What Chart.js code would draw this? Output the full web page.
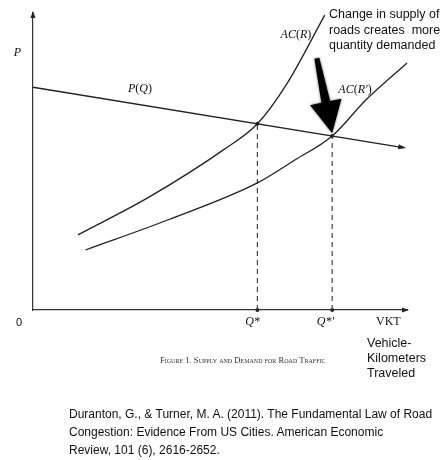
<!DOCTYPE html>
<html>
<head>
<meta charset="utf-8">
<script src="https://cdn.jsdelivr.net/npm/chart.js@4.4.1/dist/chart.umd.min.js"></script>
<style>
  body { margin: 0; background: #fff; }
  #wrap { position: relative; width: 443px; height: 460px; }
  #grafico { position: absolute; left: 0; top: 0; }
  .txt { position: absolute; font-family: "Liberation Sans", Arial, sans-serif; color: #111; white-space: nowrap; }
  #caption { left: 160px; top: 355px; font: 8.6px "Liberation Serif", serif; font-variant: small-caps; color: #333; }
</style>
</head>
<body>
<div id="wrap">
  <canvas id="grafico" width="443" height="460"></canvas>
  <div class="txt" id="note" style="left:329px; top:7px; font-size:12.5px; line-height:15.5px;">Change in supply of<br>roads creates&nbsp; more<br>quantity demanded</div>
  <div class="txt" id="caption">Figure 1. Supply and Demand for Road Traffic</div>
  <div class="txt" id="vkt" style="left:367px; top:336px; font-size:12.5px; line-height:15px;">Vehicle-<br>Kilometers<br>Traveled</div>
  <div class="txt" id="cite" style="left:69px; top:405px; font-size:12px; line-height:18px;">Duranton, G., &amp; Turner, M. A. (2011). The Fundamental Law of Road<br>Congestion: Evidence From US Cities. American Economic<br>Review, 101 (6), 2616-2652.</div>
</div>
<script>
const ctx = document.getElementById('grafico').getContext('2d');

// demand curve P(Q)
const demandX = [0, 99];
const demandY = [75, 54.7];
// average cost with the original road supply, AC(R)
const acRX = [12, 31, 51, 60, 68, 78];
const acRY = [25.3, 38, 54, 62.7, 76.4, 99.3];
// average cost after more roads, AC(R')
const acR2X = [14, 36, 60, 70, 80, 89, 100];
const acR2Y = [20.2, 30.3, 42.8, 50.5, 58.6, 70.7, 83.2];
// equilibria Q* and Q*'
const eqX = [60, 80];
const eqY = [62.7, 58.6];
// big black arrow (start -> tip)
const arrowX = [75.9, 80];
const arrowY = [84.8, 59.5];
// axis labels
const xTickValues = [58.7, 78.2, 95];
const xTickLabels = ['Q*', "Q*'", 'VKT'];
const yTickValues = [86.5];
const yTickLabels = ['P'];

const pts = (xs, ys) => xs.map((v, i) => ({ x: v, y: ys[i] }));
const INK = '#222';
const SERIF = '"Liberation Serif", "DejaVu Serif", serif';

const curve = (data) => ({
  data: data,
  borderColor: INK,
  borderWidth: 1.3,
  pointRadius: 0,
  cubicInterpolationMode: 'monotone',
  clip: false
});

const datasets = [
  curve(pts(demandX, demandY)),
  curve(pts(acRX, acRY)),
  curve(pts(acR2X, acR2Y))
];
// dashed drop lines from each equilibrium down to the axis
eqX.forEach((q, i) => {
  datasets.push({
    data: [{ x: q, y: 0 }, { x: q, y: eqY[i] }],
    borderColor: '#444',
    borderWidth: 1.2,
    borderDash: [5, 4],
    pointRadius: 0,
    clip: false
  });
});
// small dots at the equilibria and on the axis
datasets.push({
  data: pts(eqX, eqY).concat(eqX.map(q => ({ x: q, y: 0 }))),
  showLine: false,
  pointRadius: 2,
  pointBackgroundColor: INK,
  pointBorderWidth: 0,
  clip: false
});

function triangle(c, tx, ty, ux, uy, len, half) {
  c.beginPath();
  c.moveTo(tx, ty);
  c.lineTo(tx - ux * len - uy * half, ty - uy * len + ux * half);
  c.lineTo(tx - ux * len + uy * half, ty - uy * len - ux * half);
  c.closePath();
  c.fill();
}

// text with italic and upright parts, centred on (cx, cy)
function runs(c, parts, cx, cy, size) {
  const fonts = parts.map(p => (p[1] ? 'italic ' : '') + size + 'px ' + SERIF);
  let w = 0;
  parts.forEach((p, i) => { c.font = fonts[i]; w += c.measureText(p[0]).width; });
  let xx = cx - w / 2;
  c.textBaseline = 'middle';
  c.textAlign = 'left';
  parts.forEach((p, i) => {
    c.font = fonts[i];
    c.fillText(p[0], xx, cy);
    xx += c.measureText(p[0]).width;
  });
}

const annotations = {
  id: 'annotations',
  afterDatasetsDraw(chart) {
    const { ctx: c, scales: { x, y } } = chart;
    const px = v => x.getPixelForValue(v);
    const py = v => y.getPixelForValue(v);
    c.save();
    c.fillStyle = INK;

    // axis arrowheads
    triangle(c, px(100) + 2, py(0), 1, 0, 7, 2.5);
    triangle(c, px(0), py(100) - 2, 0, -1, 7, 2.5);

    // arrowhead at the end of P(Q)
    const x0 = px(demandX[0]), y0 = py(demandY[0]);
    const x1 = px(demandX[1]), y1 = py(demandY[1]);
    const dl = Math.hypot(x1 - x0, y1 - y0);
    triangle(c, x1 + 3 * (x1 - x0) / dl, y1 + 3 * (y1 - y0) / dl, (x1 - x0) / dl, (y1 - y0) / dl, 8, 2.5);

    // curve labels
    c.fillStyle = '#111';
    runs(c, [['P', 1], ['(', 0], ['Q', 1], [')', 0]], px(28.6), py(74.4), 12);
    runs(c, [['AC', 1], ['(', 0], ['R', 1], [')', 0]], px(70.3), py(92.6), 12);
    runs(c, [['AC', 1], ['(', 0], ['R\u2032', 1], [')', 0]], px(86.1), py(74.1), 12);
    c.font = '11px "Liberation Sans", Arial, sans-serif';
    c.textAlign = 'center';
    c.fillText('0', px(-3.7), py(-4.4));

    // big arrow: tapered shaft with a wide head
    const ax = px(arrowX[0]), ay = py(arrowY[0]);
    const bx = px(arrowX[1]), by = py(arrowY[1]);
    const L = Math.hypot(bx - ax, by - ay);
    const ux = (bx - ax) / L, uy = (by - ay) / L;
    const nx = -uy, ny = ux;
    const head = 32;
    const hx = bx - ux * head, hy = by - uy * head;
    c.fillStyle = '#000';
    c.shadowColor = 'rgba(0,0,0,0.55)';
    c.shadowBlur = 3;
    c.beginPath();
    c.moveTo(ax + nx * 2.5, ay + ny * 2.5);
    c.lineTo(hx + nx * 4.5, hy + ny * 4.5);
    c.lineTo(hx + nx * 16, hy + ny * 16);
    c.lineTo(bx, by);
    c.lineTo(hx - nx * 16, hy - ny * 16);
    c.lineTo(hx - nx * 4.5, hy - ny * 4.5);
    c.lineTo(ax - nx * 2.5, ay - ny * 2.5);
    c.closePath();
    c.fill();
    c.restore();
  }
};

const config = {
  type: 'line',
  data: { datasets: datasets },
  options: {
    responsive: false,
    animation: false,
    layout: { padding: { top: 13, right: 36, left: 0, bottom: 0 } },
    plugins: { legend: { display: false }, tooltip: { enabled: false } },
    scales: {
      x: {
        type: 'linear', min: 0, max: 100,
        afterBuildTicks: s => { s.ticks = xTickValues.map(v => ({ value: v })); },
        afterFit: s => { s.height = 150; s.paddingLeft = 0; s.paddingRight = 0; },
        grid: { display: false, drawTicks: false },
        border: { display: true, color: '#333', width: 1.2 },
        ticks: {
          autoSkip: false, maxRotation: 0, padding: 5, color: '#111',
          font: c => ({ family: SERIF, size: 12, style: c.index < 2 ? 'italic' : 'normal' }),
          callback: (v, i) => xTickLabels[i]
        }
      },
      y: {
        type: 'linear', min: 0, max: 100,
        afterBuildTicks: s => { s.ticks = yTickValues.map(v => ({ value: v })); },
        afterFit: s => { s.width = 33; s.paddingTop = 0; s.paddingBottom = 0; },
        grid: { display: false, drawTicks: false },
        border: { display: true, color: '#333', width: 1.2 },
        ticks: {
          autoSkip: false, padding: 12, crossAlign: 'center', color: '#111',
          font: { family: SERIF, size: 12, style: 'italic' },
          callback: (v, i) => yTickLabels[i]
        }
      }
    }
  },
  plugins: [annotations]
};

const grafico = new Chart(ctx, config);
</script>
</body>
</html>
